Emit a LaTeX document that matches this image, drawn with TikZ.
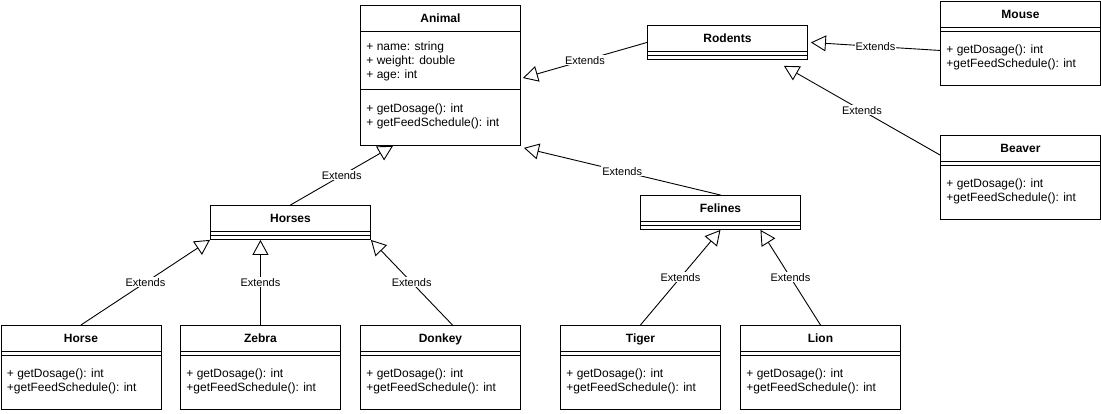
\documentclass[tikz,border=0pt]{standalone}
\usepackage{fontspec}
\setmainfont{Liberation Sans}
\usetikzlibrary{arrows.meta,calc}

\begin{document}
\begin{tikzpicture}[x=1pt,y=-1pt,line width=0.9pt]
\tikzstyle{every node}+=[inner sep=0pt]
\tikzstyle{cls}=[draw=black, rectangle, minimum width=160pt, anchor=north west]
\tikzstyle{leaf}=[cls, minimum height=84pt, path picture={\draw [black] ($(path picture bounding box.north west)+(0,26)$) -- ++(160,0) ($(path picture bounding box.north west)+(0,30)$) -- ++(160,0);}]
\tikzstyle{group}=[leaf, minimum height=34pt]
\tikzstyle{ttl}=[anchor=base, font=\bfseries\fontsize{12}{14}\selectfont]
\tikzstyle{mem}=[anchor=north west, align=left, font=\fontsize{12}{14}\selectfont, execute at begin node=\strut]
\tikzstyle{ext}=[draw=black, -{Triangle[length=15pt,width=16pt,fill=white]}]
\tikzstyle{lbl}=[fill=white, inner sep=1pt, font=\fontsize{11}{13}\selectfont]
\useasboundingbox (0,0) rectangle (1101,413);
\node [cls, minimum height=140pt] (animal) at (360,5) {};
\draw [black] ($(animal.north west)+(0,26)$) -- ($(animal.north east)+(0,26)$);
\draw [black] ($(animal.north west)+(0,84)$) -- ($(animal.north east)+(0,84)$);
\node [ttl] (animalT) at ($(animal.north)+(0,17.5)$) {Animal};
\node [mem] (animalA) at ($(animal.north west)+(6,36)$) {+ name: string\\+ weight: double\\+ age: int};
\node [mem] (animalM) at ($(animal.north west)+(6,98.5)$) {+ getDosage(): int\\+ getFeedSchedule(): int};
\node [group] (rodents) at (647,25) {};
\node [ttl] (rodentsT) at ($(rodents.north)+(0,17.5)$) {Rodents};
\node [group] (horses) at (210,205) {};
\node [ttl] (horsesT) at ($(horses.north)+(0,17.5)$) {Horses};
\node [group] (felines) at (640,195) {};
\node [ttl] (felinesT) at ($(felines.north)+(0,17.5)$) {Felines};
\node [leaf] (mouse) at (940,1) {};
\node [ttl] (mouseT) at ($(mouse.north)+(0,17.5)$) {Mouse};
\node [mem] (mouseM) at ($(mouse.north west)+(6,43)$) {+ getDosage(): int\\+getFeedSchedule(): int};
\node [leaf] (beaver) at (940,135) {};
\node [ttl] (beaverT) at ($(beaver.north)+(0,17.5)$) {Beaver};
\node [mem] (beaverM) at ($(beaver.north west)+(6,43)$) {+ getDosage(): int\\+getFeedSchedule(): int};
\node [leaf] (horse) at (0.5,325) {};
\node [ttl] (horseT) at ($(horse.north)+(0,17.5)$) {Horse};
\node [mem] (horseM) at ($(horse.north west)+(6,43)$) {+ getDosage(): int\\+getFeedSchedule(): int};
\node [leaf] (zebra) at (180,325) {};
\node [ttl] (zebraT) at ($(zebra.north)+(0,17.5)$) {Zebra};
\node [mem] (zebraM) at ($(zebra.north west)+(6,43)$) {+ getDosage(): int\\+getFeedSchedule(): int};
\node [leaf] (donkey) at (360,325) {};
\node [ttl] (donkeyT) at ($(donkey.north)+(0,17.5)$) {Donkey};
\node [mem] (donkeyM) at ($(donkey.north west)+(6,43)$) {+ getDosage(): int\\+getFeedSchedule(): int};
\node [leaf] (tiger) at (560,325) {};
\node [ttl] (tigerT) at ($(tiger.north)+(0,17.5)$) {Tiger};
\node [mem] (tigerM) at ($(tiger.north west)+(6,43)$) {+ getDosage(): int\\+getFeedSchedule(): int};
\node [leaf] (lion) at (740,325) {};
\node [ttl] (lionT) at ($(lion.north)+(0,17.5)$) {Lion};
\node [mem] (lionM) at ($(lion.north west)+(6,43)$) {+ getDosage(): int\\+getFeedSchedule(): int};
\draw [ext] (rodents.west) -- ($(animal.north east)+(2,73)$) node [lbl, midway] {Extends};
\draw [ext] ($(mouse.west)+(0,7)$) -- ($(rodents.east)+(3,0)$) node [lbl, midway] {Extends};
\draw [ext] ($(beaver.north west)+(0,20)$) -- ($(rodents.south east)+(-24,6)$) node [lbl, midway] {Extends};
\draw [ext] (horses.north) -- ($(animal.south west)+(33,0)$) node [lbl, midway] {Extends};
\draw [ext] (felines.north) -- ($(animal.south east)+(3,2)$) node [lbl, midway] {Extends};
\draw [ext] (horse.north) -- (horses.south west) node [lbl, midway] {Extends};
\draw [ext] (zebra.north) -- (zebra.north |- horses.south) node [lbl, midway] {Extends};
\draw [ext] ($(donkey.north)+(12,0)$) -- (horses.south east) node [lbl, midway] {Extends};
\draw [ext] (tiger.north) -- (felines.south) node [lbl, midway] {Extends};
\draw [ext] (lion.north) -- ($(felines.south)+(40,0)$) node [lbl, midway] {Extends};
\end{tikzpicture}
\end{document}
